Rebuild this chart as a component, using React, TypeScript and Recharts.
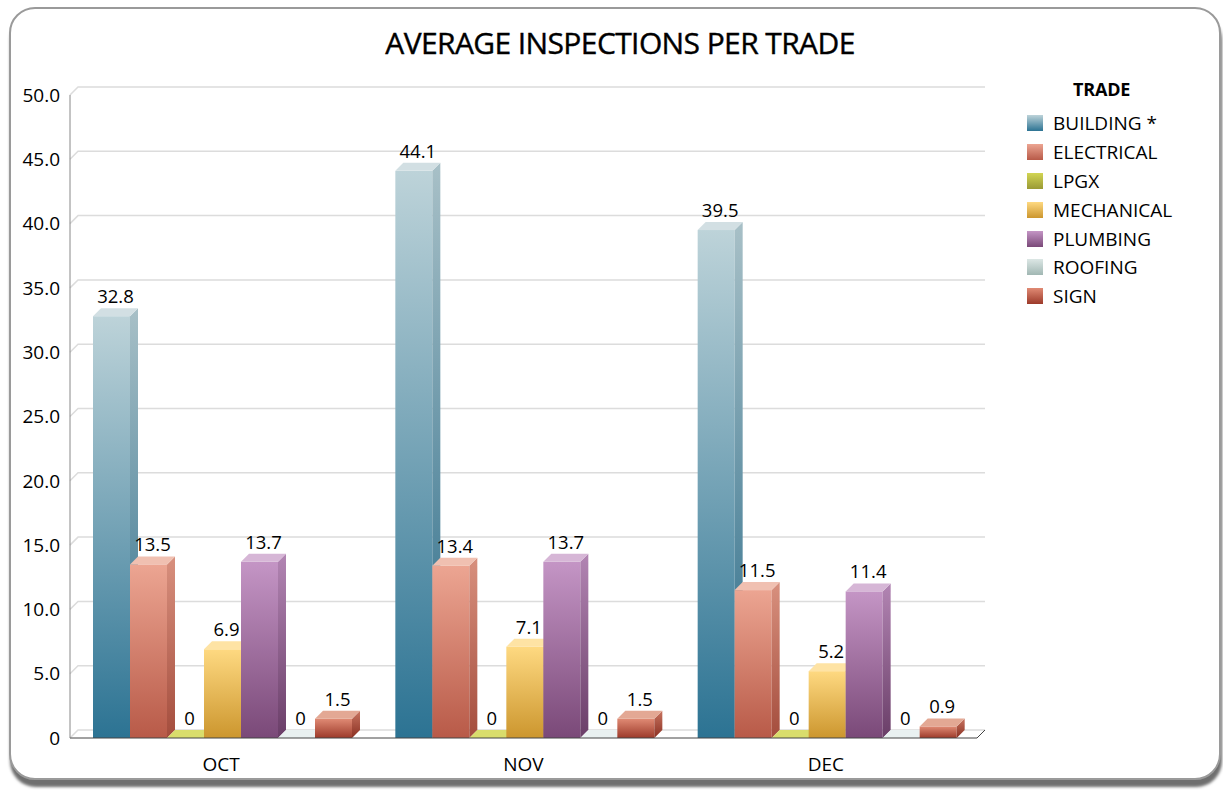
import { BarChart, Bar, XAxis, YAxis, CartesianGrid, LabelList } from "recharts"

const months = ["OCT", "NOV", "DEC"]
const trades = ["BUILDING *", "ELECTRICAL", "LPGX", "MECHANICAL", "PLUMBING", "ROOFING", "SIGN"]
const building = [32.8, 44.1, 39.5]
const electrical = [13.5, 13.4, 11.5]
const lpgx = [0, 0, 0]
const mechanical = [6.9, 7.1, 5.2]
const plumbing = [13.7, 13.7, 11.4]
const roofing = [0, 0, 0]
const sign = [1.5, 1.5, 0.9]
const yTicks = [0, 5, 10, 15, 20, 25, 30, 35, 40, 45, 50]

const seriesValues = [building, electrical, lpgx, mechanical, plumbing, roofing, sign]
const seriesKeys = ["building", "electrical", "lpgx", "mechanical", "plumbing", "roofing", "sign"]

// front gradient top/bottom, top face, side gradient top/bottom
const palette = [
  { top: "#bdd3d9", bottom: "#2c7393", cap: "#d2dfe3", sideTop: "#a8c0c7", sideBottom: "#286a88" },
  { top: "#eca592", bottom: "#b85a48", cap: "#f0c0b1", sideTop: "#d8907e", sideBottom: "#a44d3d" },
  { top: "#d2d553", bottom: "#9a9a35", cap: "#d9dd6c", sideTop: "#bfc24a", sideBottom: "#8a8a30" },
  { top: "#fed981", bottom: "#cc962e", cap: "#fee3a4", sideTop: "#f0c870", sideBottom: "#b88528" },
  { top: "#c495c5", bottom: "#7a4978", cap: "#d6b6d6", sideTop: "#b285b3", sideBottom: "#6a3e68" },
  { top: "#dce7e5", bottom: "#a1b7b3", cap: "#e9f1f1", sideTop: "#cbd8d6", sideBottom: "#92a8a4" },
  { top: "#e08a74", bottom: "#9c3a2a", cap: "#e3a894", sideTop: "#c87460", sideBottom: "#8a3022" },
]

const data = months.map((m, i) => {
  const row: Record<string, string | number> = { name: m }
  seriesKeys.forEach((k, s) => {
    row[k] = seriesValues[s][i]
  })
  return row
})

const DEPTH = 8
const FONT = "'Open Sans', 'Noto Sans', sans-serif"

const makeShape = (idx: number) => (props: any) => {
  const { x, y, width, height } = props
  const c = palette[idx]
  const d = DEPTH
  const h = Math.max(0, height)
  return (
    <g>
      {h > 0 && <rect x={x} y={y} width={width} height={h} fill={`url(#front${idx})`} />}
      {h > 0 && (
        <path
          d={`M${x + width},${y} L${x + width + d},${y - d} L${x + width + d},${y + h - d} L${x + width},${y + h} Z`}
          fill={`url(#side${idx})`}
        />
      )}
      <path
        d={`M${x},${y} L${x + d},${y - d} L${x + width + d},${y - d} L${x + width},${y} Z`}
        fill={c.cap}
      />
    </g>
  )
}

const renderLabel = (props: any) => {
  const { x, y, width, value } = props
  return (
    <text
      x={x + width / 2 + DEPTH / 2}
      y={y - DEPTH - 5}
      textAnchor="middle"
      fontSize={18.5}
      fontFamily={FONT}
      fill="#000"
    >
      {value}
    </text>
  )
}

const gridLine = (props: any) => {
  const { x1, y1, x2 } = props
  const d = DEPTH
  const isFloor = Math.abs(y1 - 738) < 2
  return (
    <g key={props.key}>
      <path d={`M${x1},${y1} L${x1 + d},${y1 - d} L${x2 + d},${y1 - d}`} stroke="#dcdcdc" strokeWidth={1.5} fill="none" />
      {isFloor && <path d={`M${x2},${y1} L${x2 + d},${y1 - d}`} stroke="#444" strokeWidth={1} fill="none" />}
    </g>
  )
}

const App = () => {
  return (
    <div style={{ position: "absolute", left: 0, top: 0, width: 1223, height: 790, background: "#fff", overflow: "hidden" }}>
      <div
        style={{
          position: "absolute",
          left: 9,
          top: 7,
          width: 1208,
          height: 769,
          border: "2px solid #9a9a9a",
          borderRadius: 26,
          boxShadow: "1px 7px 3px #6f6f6f",
          background: "#fff",
        }}
      />
      <div
        style={{
          position: "absolute",
          left: 0,
          width: 1240,
          top: 22,
          textAlign: "center",
          fontFamily: FONT,
          fontSize: 30,
          letterSpacing: -0.6,
          color: "#000",
          WebkitTextStroke: "0.4px #000",
        }}
      >
        AVERAGE INSPECTIONS PER TRADE
      </div>
      <div style={{ position: "absolute", left: 0, top: 0 }}>
        <BarChart
          width={1223}
          height={790}
          data={data}
          margin={{ top: 95, right: 246, bottom: 22, left: 10 }}
          barCategoryGap={23}
          barGap={0}
        >
          <defs>
            {palette.map((c, i) => (
              <linearGradient key={`f${i}`} id={`front${i}`} x1="0" y1="0" x2="0" y2="1">
                <stop offset="0%" stopColor={c.top} />
                <stop offset="100%" stopColor={c.bottom} />
              </linearGradient>
            ))}
            {palette.map((c, i) => (
              <linearGradient key={`s${i}`} id={`side${i}`} x1="0" y1="0" x2="0" y2="1">
                <stop offset="0%" stopColor={c.sideTop} />
                <stop offset="100%" stopColor={c.sideBottom} />
              </linearGradient>
            ))}
          </defs>
          <CartesianGrid vertical={false} horizontal={gridLine} />
          <XAxis
            dataKey="name"
            height={30}
            axisLine={{ stroke: "#444" }}
            tickLine={false}
            tickMargin={14}
            tick={{ fontSize: 19, fontFamily: FONT, fill: "#000" }}
          />
          <YAxis
            width={60}
            domain={[0, 50]}
            ticks={yTicks}
            axisLine={{ stroke: "#888" }}
            tickLine={false}
            tickMargin={4}
            tickFormatter={(v: number) => (v === 0 ? "0" : v.toFixed(1))}
            tick={{ fontSize: 19, fontFamily: FONT, fill: "#000" }}
          />
          {seriesKeys.map((k, i) => (
            <Bar key={k} dataKey={k} name={trades[i]} shape={makeShape(i)} isAnimationActive={false}>
              <LabelList dataKey={k} content={renderLabel} />
            </Bar>
          ))}
        </BarChart>
      </div>
      <div style={{ position: "absolute", left: 1027, top: 77, fontFamily: FONT, color: "#000" }}>
        <div style={{ fontSize: 18, fontWeight: 700, marginLeft: 46, letterSpacing: -0.2, lineHeight: "24px" }}>TRADE</div>
        <div style={{ marginTop: 8 }}>
          {trades.map((t, i) => (
            <div key={t} style={{ display: "flex", alignItems: "center", height: 28.8 }}>
              <div
                style={{
                  width: 16,
                  height: 16,
                  background: `linear-gradient(${palette[i].top}, ${palette[i].bottom})`,
                  marginRight: 10,
                }}
              />
              <span style={{ fontSize: 19 }}>{t}</span>
            </div>
          ))}
        </div>
      </div>
    </div>
  )
}

export default App
